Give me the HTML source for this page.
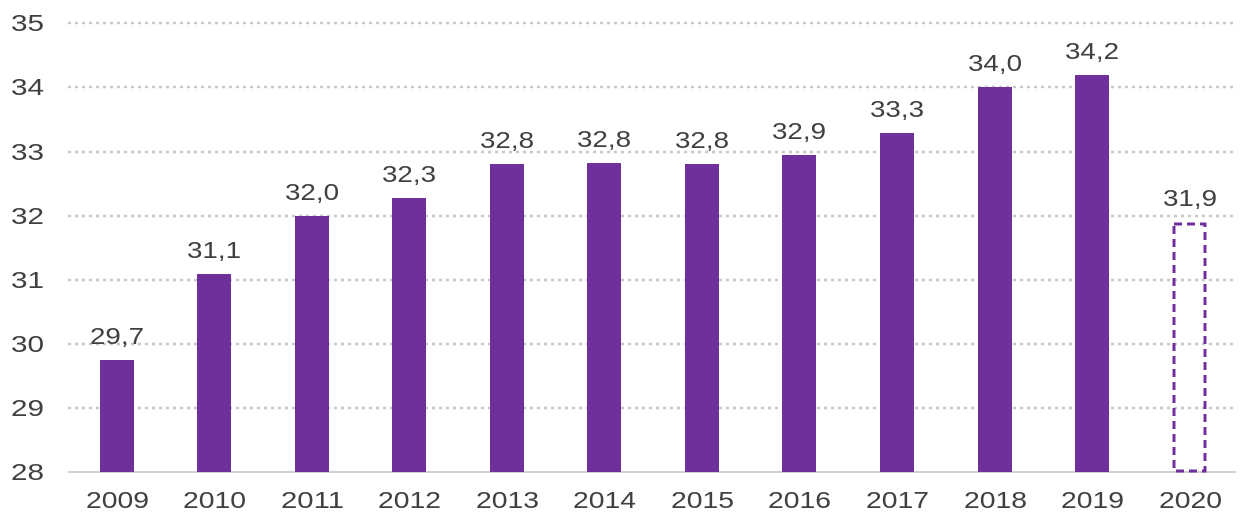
<!DOCTYPE html>
<html><head><meta charset="utf-8"><style>
html,body{margin:0;padding:0;background:#fff}
svg text{font-family:"Liberation Sans",Arial,sans-serif;fill:#404040}
</style></head><body>
<svg width="1246" height="517" viewBox="0 0 1246 517" xmlns="http://www.w3.org/2000/svg">
<g stroke="#c8c8c8" stroke-width="2.5" stroke-dasharray="3,4">
<line x1="68" y1="23" x2="1236" y2="23"/>
<line x1="68" y1="87" x2="1236" y2="87"/>
<line x1="68" y1="152" x2="1236" y2="152"/>
<line x1="68" y1="216" x2="1236" y2="216"/>
<line x1="68" y1="280" x2="1236" y2="280"/>
<line x1="68" y1="344" x2="1236" y2="344"/>
<line x1="68" y1="408" x2="1236" y2="408"/>
</g>
<line x1="68" y1="472" x2="1236" y2="472" stroke="#d0d0d0" stroke-width="2"/>
<g font-size="23" lengthAdjust="spacingAndGlyphs">
<text x="11" y="31" textLength="33" lengthAdjust="spacingAndGlyphs">35</text>
<text x="11" y="95" textLength="33" lengthAdjust="spacingAndGlyphs">34</text>
<text x="11" y="160" textLength="33" lengthAdjust="spacingAndGlyphs">33</text>
<text x="11" y="224" textLength="33" lengthAdjust="spacingAndGlyphs">32</text>
<text x="11" y="288" textLength="33" lengthAdjust="spacingAndGlyphs">31</text>
<text x="11" y="352" textLength="33" lengthAdjust="spacingAndGlyphs">30</text>
<text x="11" y="416" textLength="33" lengthAdjust="spacingAndGlyphs">29</text>
<text x="11" y="480" textLength="33" lengthAdjust="spacingAndGlyphs">28</text>
</g>
<g fill="#70309c">
<rect x="100" y="360" width="34" height="112"/>
<rect x="197" y="274" width="34" height="198"/>
<rect x="295" y="216" width="34" height="256"/>
<rect x="392" y="198" width="34" height="274"/>
<rect x="490" y="164" width="34" height="308"/>
<rect x="587" y="163" width="34" height="309"/>
<rect x="685" y="164" width="34" height="308"/>
<rect x="782" y="155" width="34" height="317"/>
<rect x="880" y="133" width="34" height="339"/>
<rect x="978" y="87" width="34" height="385"/>
<rect x="1075" y="75" width="34" height="397"/>
</g>
<rect x="1174" y="224" width="31" height="247" fill="none" stroke="#70309c" stroke-width="3" stroke-dasharray="8,5"/>
<g font-size="23">
<text x="90" y="344" textLength="54" lengthAdjust="spacingAndGlyphs">29,7</text>
<text x="187" y="258" textLength="54" lengthAdjust="spacingAndGlyphs">31,1</text>
<text x="285" y="200" textLength="54" lengthAdjust="spacingAndGlyphs">32,0</text>
<text x="382" y="182" textLength="54" lengthAdjust="spacingAndGlyphs">32,3</text>
<text x="480" y="148" textLength="54" lengthAdjust="spacingAndGlyphs">32,8</text>
<text x="577" y="147" textLength="54" lengthAdjust="spacingAndGlyphs">32,8</text>
<text x="675" y="148" textLength="54" lengthAdjust="spacingAndGlyphs">32,8</text>
<text x="772" y="139" textLength="54" lengthAdjust="spacingAndGlyphs">32,9</text>
<text x="870" y="117" textLength="54" lengthAdjust="spacingAndGlyphs">33,3</text>
<text x="968" y="71" textLength="54" lengthAdjust="spacingAndGlyphs">34,0</text>
<text x="1065" y="59" textLength="54" lengthAdjust="spacingAndGlyphs">34,2</text>
<text x="1163" y="206" textLength="54" lengthAdjust="spacingAndGlyphs">31,9</text>
</g>
<g font-size="23">
<text x="86" y="508" textLength="63" lengthAdjust="spacingAndGlyphs">2009</text>
<text x="183" y="508" textLength="63" lengthAdjust="spacingAndGlyphs">2010</text>
<text x="281" y="508" textLength="63" lengthAdjust="spacingAndGlyphs">2011</text>
<text x="378" y="508" textLength="63" lengthAdjust="spacingAndGlyphs">2012</text>
<text x="476" y="508" textLength="63" lengthAdjust="spacingAndGlyphs">2013</text>
<text x="573" y="508" textLength="63" lengthAdjust="spacingAndGlyphs">2014</text>
<text x="671" y="508" textLength="63" lengthAdjust="spacingAndGlyphs">2015</text>
<text x="768" y="508" textLength="63" lengthAdjust="spacingAndGlyphs">2016</text>
<text x="866" y="508" textLength="63" lengthAdjust="spacingAndGlyphs">2017</text>
<text x="964" y="508" textLength="63" lengthAdjust="spacingAndGlyphs">2018</text>
<text x="1061" y="508" textLength="63" lengthAdjust="spacingAndGlyphs">2019</text>
<text x="1159" y="508" textLength="63" lengthAdjust="spacingAndGlyphs">2020</text>
</g>
</svg>
</body></html>
